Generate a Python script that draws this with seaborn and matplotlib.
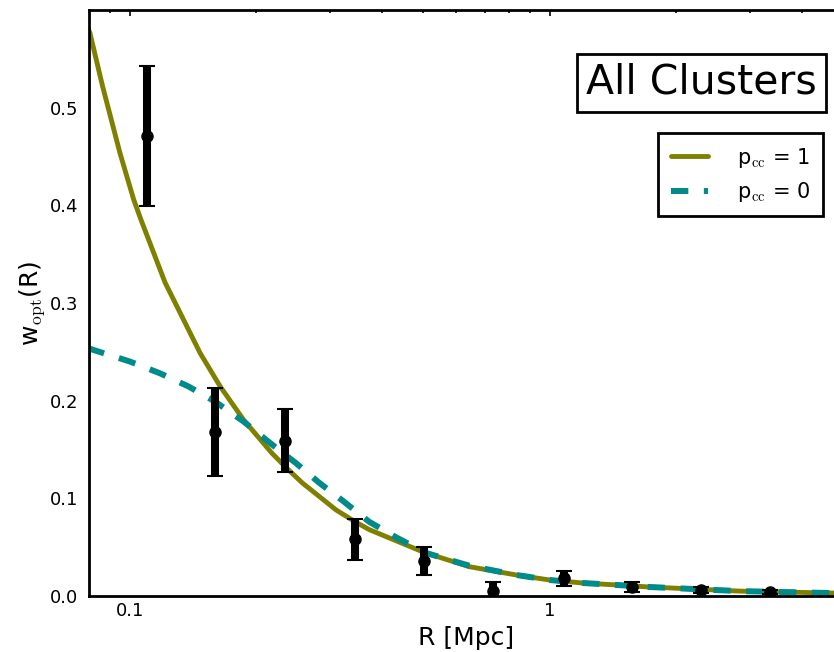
import matplotlib
matplotlib.use("Agg")
import matplotlib.pyplot as plt
import pandas as pd
import seaborn as sns
from matplotlib.offsetbox import AnchoredText

# Measured cross-correlation amplitude per radial bin
r_data = [0.110, 0.160, 0.234, 0.344, 0.503, 0.735, 1.08, 1.57, 2.29, 3.35]
w_data = [0.471, 0.168, 0.159, 0.058, 0.036, 0.005, 0.018, 0.009, 0.006, 0.004]
w_err = [0.072, 0.045, 0.032, 0.021, 0.014, 0.009, 0.008, 0.005, 0.003, 0.002]

# Model with perfectly centred clusters (p_cc = 1)
r_cen = [0.0794, 0.0804, 0.0862, 0.0948, 0.1022, 0.1064, 0.1214, 0.1472, 0.1643,
         0.1868, 0.2182, 0.2365, 0.2574, 0.3104, 0.3443, 0.3719, 0.5030, 0.6443,
         0.834, 1.0, 1.199, 1.445, 1.733, 2.841, 4.735, 5.0]
w_cen = [0.582, 0.5765, 0.5218, 0.4536, 0.406, 0.3852, 0.321, 0.2486, 0.2145,
         0.1803, 0.1462, 0.131, 0.116, 0.088, 0.076, 0.068, 0.0446, 0.030,
         0.0215, 0.0164, 0.0133, 0.0113, 0.0092, 0.005, 0.003, 0.003]

# Model with fully miscentred clusters (p_cc = 0)
r_off = [0.0794, 0.0819, 0.1002, 0.1181, 0.1381, 0.1598, 0.1868, 0.2162, 0.249,
         0.2826, 0.3207, 0.3719, 0.4314, 0.5087, 0.6099, 0.6443, 0.834, 1.0,
         1.199, 1.445, 1.733, 2.841, 4.735, 5.0]
w_off = [0.254, 0.252, 0.240, 0.228, 0.2145, 0.199, 0.1786, 0.1565, 0.136,
         0.116, 0.098, 0.076, 0.060, 0.044, 0.034, 0.031, 0.0215, 0.0164,
         0.0133, 0.0113, 0.0092, 0.005, 0.003, 0.003]

x_ticks = [0.1, 1]
x_tick_labels = ["0.1", "1"]
y_ticks = [0.0, 0.1, 0.2, 0.3, 0.4, 0.5]

sns.set_style("white")
plt.rcParams["font.family"] = ["DejaVu Sans"]
plt.rcParams["mathtext.fontset"] = "cm"
plt.rcParams["text.color"] = "black"
plt.rcParams["axes.labelcolor"] = "black"

W, H = 834, 652
fig = plt.figure(figsize=(W / 100, H / 100), dpi=100)
ax = fig.add_axes([89 / W, 56 / H, (843 - 89) / W, 586 / H])

df_cen = pd.DataFrame({"R": r_cen, "w": w_cen})
df_off = pd.DataFrame({"R": r_off, "w": w_off})

sns.lineplot(data=df_cen, x="R", y="w", ax=ax, color="#808000", lw=3.5,
             sort=False, estimator=None, legend=False)
sns.lineplot(data=df_off, x="R", y="w", ax=ax, color="#008B8B", lw=4.3,
             sort=False, estimator=None, legend=False)
line_cen, line_off = ax.lines[0], ax.lines[1]
line_cen.set_solid_joinstyle("round")
line_off.set_dashes((2.9, 2.6))
line_cen.set_label(r"p$_{\rm cc}$ = 1")
line_off.set_label(r"p$_{\rm cc}$ = 0")

ax.errorbar(r_data, w_data, yerr=w_err, fmt="o", color="black", ms=8,
            elinewidth=5.8, capsize=6, capthick=1.5, zorder=5)

ax.set_xscale("log")
ax.set_xlim(0.08, 5.0)
ax.set_ylim(0.0, 0.6)
ax.set_xticks(x_ticks, x_tick_labels)
ax.set_yticks(y_ticks, [f"{v:.1f}" for v in y_ticks])

ax.tick_params(which="both", direction="in", top=True, right=True,
               labelsize=13, colors="black", width=1.2)
ax.tick_params(which="major", length=4.5)
ax.tick_params(which="minor", length=2.5)
ax.tick_params(axis="x", which="major", pad=4)
ax.tick_params(axis="y", which="major", pad=8)
for sp in ax.spines.values():
    sp.set_linewidth(2)
    sp.set_color("black")

ax.set_xlabel("R [Mpc]", fontsize=18, labelpad=5)
ax.set_ylabel(r"w$_{\rm opt}$(R)", fontsize=18, labelpad=2)

leg = ax.legend(handles=[line_cen, line_off], loc="upper right",
                bbox_to_anchor=(0.9735, 0.790), fontsize=15, frameon=True,
                fancybox=False, edgecolor="black", framealpha=1,
                handlelength=1.8, borderpad=0.6, labelspacing=0.5,
                handletextpad=1.4, borderaxespad=0)
leg.get_frame().set_linewidth(2)
for t in leg.get_texts():
    t.set_color("black")

title_box = AnchoredText("All Clusters", loc="upper right", prop=dict(size=29.5),
                         frameon=True, bbox_to_anchor=(0.977, 0.925),
                         bbox_transform=ax.transAxes, borderpad=0, pad=0.22)
title_box.patch.set_boxstyle("square,pad=0")
title_box.patch.set_linewidth(2)
title_box.patch.set_edgecolor("black")
title_box.txt._text.set_color("black")
ax.add_artist(title_box)

fig.savefig("out.png", dpi=100)
